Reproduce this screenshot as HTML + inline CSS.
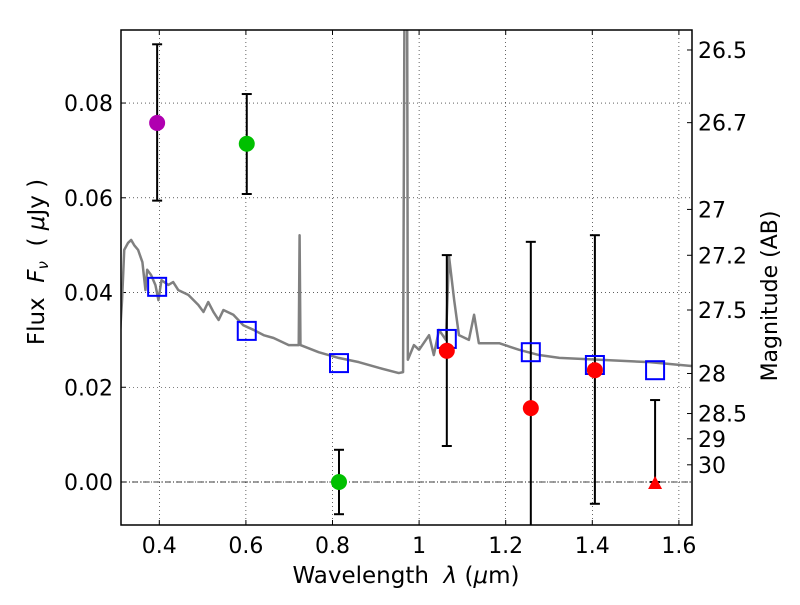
<!DOCTYPE html>
<html><head><meta charset="utf-8"><style>
body{margin:0;background:#fff}
svg text{font-family:"DejaVu Sans","Liberation Sans",sans-serif;fill:#000}
</style></head><body>
<svg id="c" width="800" height="600" xmlns="http://www.w3.org/2000/svg"></svg>
<script>
const specLam=[0.307,0.314,0.319,0.328,0.335,0.342,0.351,0.361,0.368,0.372,0.381,0.391,0.398,0.405,0.421,0.432,0.444,0.467,0.490,0.502,0.513,0.525,0.537,0.548,0.571,0.594,0.618,0.641,0.664,0.699,0.722,0.724,0.726,0.768,0.814,0.861,0.907,0.953,0.963,0.967,0.972,0.974,0.988,1.000,1.023,1.034,1.046,1.062,1.069,1.081,1.092,1.115,1.127,1.138,1.185,1.231,1.277,1.324,1.416,1.532,1.629];
const specFlux=[0.0279,0.0384,0.0490,0.0505,0.0511,0.0500,0.0490,0.0464,0.0405,0.0448,0.0437,0.0416,0.0384,0.0426,0.0416,0.0422,0.0405,0.0395,0.0374,0.0359,0.0380,0.0359,0.0342,0.0363,0.0353,0.0331,0.0321,0.0310,0.0304,0.0289,0.0289,0.0521,0.0289,0.0274,0.0262,0.0253,0.0241,0.0230,0.0232,0.12,0.12,0.0258,0.0289,0.0279,0.0310,0.0268,0.0321,0.0300,0.0477,0.0384,0.0310,0.0300,0.0353,0.0293,0.0293,0.0279,0.0268,0.0262,0.0258,0.0253,0.0245];
const obsLam=[0.395,0.602,0.815,1.064,1.258,1.406,1.545];
const obsFlux=[0.0758,0.0714,0.0,0.0277,0.0156,0.0236,0.0];
const obsHi=[0.0924,0.0819,0.0068,0.0479,0.0507,0.0521,0.0173];
const obsLo=[0.0594,0.0608,-0.0068,0.0076,-0.03,-0.0046,0.0];
const obsColor=["#b000b0","#00c000","#00c000","#ff0000","#ff0000","#ff0000","#ff0000"];
const obsUpper=[false,false,false,false,false,false,true];
const modelFlux=[0.0412,0.0319,0.0251,0.0302,0.0274,0.0247,0.0236];
const xTicks=[0.4,0.6,0.8,1,1.2,1.4,1.6];
const xTickLabels=["0.4","0.6","0.8","1","1.2","1.4","1.6"];
const yTicks=[0,0.02,0.04,0.06,0.08];
const yTickLabels=["0.00","0.02","0.04","0.06","0.08"];
const magTicks=[26.5,26.7,27,27.2,27.5,28,28.5,29,30];
const magLabels=["26.5","26.7","27","27.2","27.5","28","28.5","29","30"];

const L=121,R=692,T=30,B=525;
const X=v=>159.3+(v-0.4)*433;
const Y=v=>482-v*4737;
const NS="http://www.w3.org/2000/svg";
const svg=document.getElementById('c');
function mk(t,a,p){const e=document.createElementNS(NS,t);for(const k in a)e.setAttribute(k,a[k]);(p||svg).appendChild(e);return e;}
const clip=mk('clipPath',{id:'pc'});mk('rect',{x:L,y:T,width:R-L,height:B-T},clip);
xTicks.forEach((v,i)=>{
  const g=mk('line',{x1:X(v),x2:X(v),y1:T,y2:B,stroke:'#000','stroke-width':0.6,'stroke-dasharray':'1,3'});
  
  mk('line',{x1:X(v),x2:X(v),y1:B,y2:B-5,stroke:'#000'});mk('line',{x1:X(v),x2:X(v),y1:T,y2:T+5,stroke:'#000'});
  const t=mk('text',{x:X(v),y:B+28,'text-anchor':'middle','font-size':22});t.textContent=xTickLabels[i];
  
});
yTicks.forEach((v,i)=>{
  const g=mk('line',{x1:L,x2:R,y1:Y(v),y2:Y(v),stroke:'#000','stroke-width':0.6,'stroke-dasharray':'1,3'});
  
  mk('line',{x1:L,x2:L+5,y1:Y(v),y2:Y(v),stroke:'#000'});
  const t=mk('text',{x:L-8,y:Y(v)+8,'text-anchor':'end','font-size':22});t.textContent=yTickLabels[i];
  
});
const z=mk('line',{x1:L,x2:R,y1:Y(0),y2:Y(0),stroke:'#000','stroke-width':0.8,'stroke-dasharray':'6,2,1,2'});

const sp=mk('polyline',{points:specLam.map((l,i)=>X(l)+','+Y(specFlux[i])).join(' '),fill:'none',stroke:'#808080','stroke-width':2.5,'clip-path':'url(#pc)','stroke-linejoin':'round'});

const gp=mk('g',{'clip-path':'url(#pc)'});
obsLam.forEach((l,i)=>{
  const x=X(l);
  const e=mk('line',{x1:x,x2:x,y1:Y(obsHi[i]),y2:Y(obsLo[i]),stroke:'#000','stroke-width':2},gp);
  
  mk('line',{x1:x-5,x2:x+5,y1:Y(obsHi[i]),y2:Y(obsHi[i]),stroke:'#000','stroke-width':2},gp);
  mk('line',{x1:x-5,x2:x+5,y1:Y(obsLo[i]),y2:Y(obsLo[i]),stroke:'#000','stroke-width':2},gp);
});
obsLam.forEach((l,i)=>{
  const s=mk('rect',{x:X(l)-9,y:Y(modelFlux[i])-9,width:18,height:18,fill:'none',stroke:'#0000ff','stroke-width':2});
  
});
obsLam.forEach((l,i)=>{
  const x=X(l),y=Y(obsFlux[i]);let m;
  if(obsUpper[i]) m=mk('polygon',{points:`${x},${y-6} ${x-7},${y+7} ${x+7},${y+7}`,fill:obsColor[i]});
  else m=mk('circle',{cx:x,cy:y,r:8,fill:obsColor[i]});
  
});
magTicks.forEach((m,i)=>{
  const y=Y(Math.pow(10,(23.9-m)/2.5));
  mk('line',{x1:R-5,x2:R,y1:y,y2:y,stroke:'#000'});
  const t=mk('text',{x:R+6,y:y+8,'font-size':22});t.textContent=magLabels[i];
  
});
const fr=mk('rect',{x:L,y:T,width:R-L,height:B-T,fill:'none',stroke:'#000','stroke-width':1.5});

</script>
<svg width="800" height="600" style="position:absolute;left:0;top:0" xmlns="http://www.w3.org/2000/svg">
<text x="406" y="583" text-anchor="middle" font-size="23" xml:space="preserve">Wavelength  <tspan font-style="italic">λ</tspan> (<tspan font-style="italic">μ</tspan>m)</text>
<text transform="translate(44,262) rotate(-90)" text-anchor="middle" font-size="23" xml:space="preserve">Flux  <tspan font-style="italic">F</tspan><tspan font-style="italic" font-size="15" dy="4">ν</tspan><tspan dy="-4">  ( </tspan><tspan font-style="italic">μ</tspan>Jy )</text>
<text transform="translate(777,296) rotate(-90)" text-anchor="middle" font-size="22">Magnitude (AB)</text>
</svg>
</body></html>
